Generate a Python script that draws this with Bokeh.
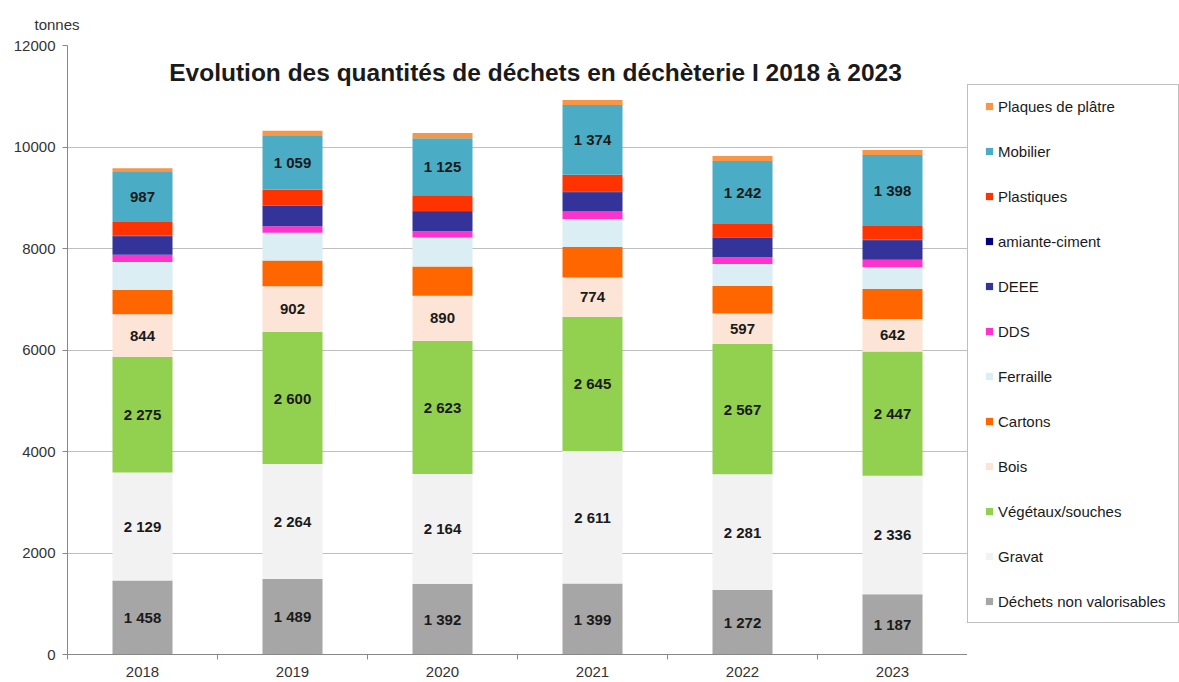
from bokeh.plotting import figure
from bokeh.layouts import row
from bokeh.models import (ColumnDataSource, Range1d, FixedTicker, Legend, LegendItem,
                          Label, LabelSet)
from bokeh.core.properties import value
from bokeh.embed import file_html
from bokeh.resources import INLINE

years = ["2018", "2019", "2020", "2021", "2022", "2023"]
dechets = [1458, 1489, 1392, 1399, 1272, 1187]
gravat = [2129, 2264, 2164, 2611, 2281, 2336]
vegetaux = [2275, 2600, 2623, 2645, 2567, 2447]
bois = [844, 902, 890, 774, 597, 642]
cartons = [480, 510, 575, 600, 550, 590]
ferraille = [550, 545, 575, 550, 430, 430]
dds = [140, 130, 120, 150, 130, 145]
deee = [365, 385, 390, 380, 380, 385]
amiante = [10, 15, 10, 15, 10, 10]
plastiques = [270, 320, 310, 330, 265, 270]
mobilier = [987, 1059, 1125, 1374, 1242, 1398]
platre = [75, 100, 100, 100, 100, 100]

series_names = ["Déchets non valorisables", "Gravat", "Végétaux/souches", "Bois", "Cartons",
                "Ferraille", "DDS", "DEEE", "amiante-ciment", "Plastiques", "Mobilier",
                "Plaques de plâtre"]
series_values = [dechets, gravat, vegetaux, bois, cartons, ferraille, dds, deee, amiante,
                 plastiques, mobilier, platre]
colors = ["#a6a6a6", "#f2f2f2", "#92d050", "#fce4d6", "#ff6600", "#daeef3", "#ff33cc",
          "#333399", "#000080", "#ff3300", "#4bacc6", "#f79646"]
labelled = {"Déchets non valorisables", "Gravat", "Végétaux/souches", "Bois", "Mobilier"}

FONT = "Liberation Sans"

xs = [i + 0.5 for i in range(len(years))]
keys = ["s%d" % i for i in range(len(series_names))]
data = {"x": xs}
for k, v in zip(keys, series_values):
    data[k] = v
source = ColumnDataSource(data)

p = figure(width=967, height=682, output_backend="svg", toolbar_location=None,
           x_range=Range1d(0, len(years)), y_range=Range1d(0, 12000),
           min_border_left=67, min_border_right=0, min_border_top=45, min_border_bottom=28)
p.outline_line_color = None
p.background_fill_color = "white"
p.border_fill_color = "white"

# unit label as the figure title (top-left)
p.title.text = "tonnes"
p.title.align = "left"
p.title.offset = -33
p.title.standoff = 26
p.title.text_font = FONT
p.title.text_font_style = "normal"
p.title.text_font_size = "15px"
p.title.text_color = "#333333"

p.vbar_stack(keys, x="x", width=0.4, color=colors, line_color=None, source=source)

# value labels
lx, ly, lt = [], [], []
bottoms = [0] * len(years)
for name, vals in zip(series_names, series_values):
    for i, v in enumerate(vals):
        if name in labelled:
            lx.append(xs[i])
            ly.append(bottoms[i] + v / 2)
            lt.append(f"{v:,}".replace(",", " "))
        bottoms[i] += v
lsrc = ColumnDataSource(dict(x=lx, y=ly, t=lt))
p.add_layout(LabelSet(x="x", y="y", text="t", source=lsrc, text_align="center",
                      text_baseline="middle", text_font=value(FONT), text_font_style="bold",
                      text_font_size="15px", text_color="#1a1a1a"))

# axes
xa = p.xaxis[0]
xa.ticker = FixedTicker(ticks=xs, minor_ticks=list(range(len(years) + 1)))
xa.major_label_overrides = {x: y for x, y in zip(xs, years)}
xa.major_tick_line_color = None
xa.major_tick_out = 5
xa.minor_tick_out = 5
xa.minor_tick_in = 0
xa.minor_tick_line_color = "#888888"
xa.axis_line_color = "#888888"
xa.major_label_standoff = 7
xa.major_label_text_font = FONT
xa.major_label_text_font_size = "15px"
xa.major_label_text_color = "#333333"

ya = p.yaxis[0]
ya.ticker = FixedTicker(ticks=list(range(0, 12001, 2000)))
ya.axis_line_color = "#888888"
ya.major_tick_line_color = "#888888"
ya.major_tick_out = 5
ya.major_tick_in = 0
ya.minor_tick_line_color = None
ya.major_label_standoff = 7
ya.major_label_text_font = FONT
ya.major_label_text_font_size = "15px"
ya.major_label_text_color = "#333333"

p.xgrid.grid_line_color = None
p.ygrid.grid_line_color = "#bfbfbf"
p.ygrid.ticker = ya.ticker

# chart title inside the plot area
p.add_layout(Label(x=3.12, y=11468, text="Evolution des quantités de déchets en déchèterie I 2018 à 2023",
                   text_align="center", text_baseline="middle", text_font=FONT,
                   text_font_style="bold", text_font_size="24.5px", text_color="#1a1a1a"))

# legend in its own panel figure to the right
lf = figure(width=212, height=682, output_backend="svg", toolbar_location=None,
            x_range=Range1d(0, 1), y_range=Range1d(0, 1),
            x_axis_location=None, y_axis_location=None,
            min_border_left=0, min_border_right=0, min_border_top=0, min_border_bottom=0)
lf.outline_line_color = None
lf.xgrid.grid_line_color = None
lf.ygrid.grid_line_color = None
lf.background_fill_color = "white"
lf.border_fill_color = "white"

items = []
for name, c in reversed(list(zip(series_names, colors))):
    r = lf.scatter(x=[float("nan")], y=[float("nan")], marker="square", size=8,
                   fill_color=c, line_color=None)
    items.append(LegendItem(label=name, renderers=[r]))
legend = Legend(items=items, location=(0, 31), margin=0, glyph_width=18, glyph_height=18,
                label_height=18, spacing=27, padding=12, label_standoff=0,
                label_text_font=FONT, label_text_font_size="15px", label_text_color="#1a1a1a",
                border_line_color="#7f7f7f", border_line_width=1,
                background_fill_color="white", background_fill_alpha=1.0)
lf.add_layout(legend)

layout = row(p, lf, spacing=0)
open("out.html", "w").write(file_html(layout, INLINE))
